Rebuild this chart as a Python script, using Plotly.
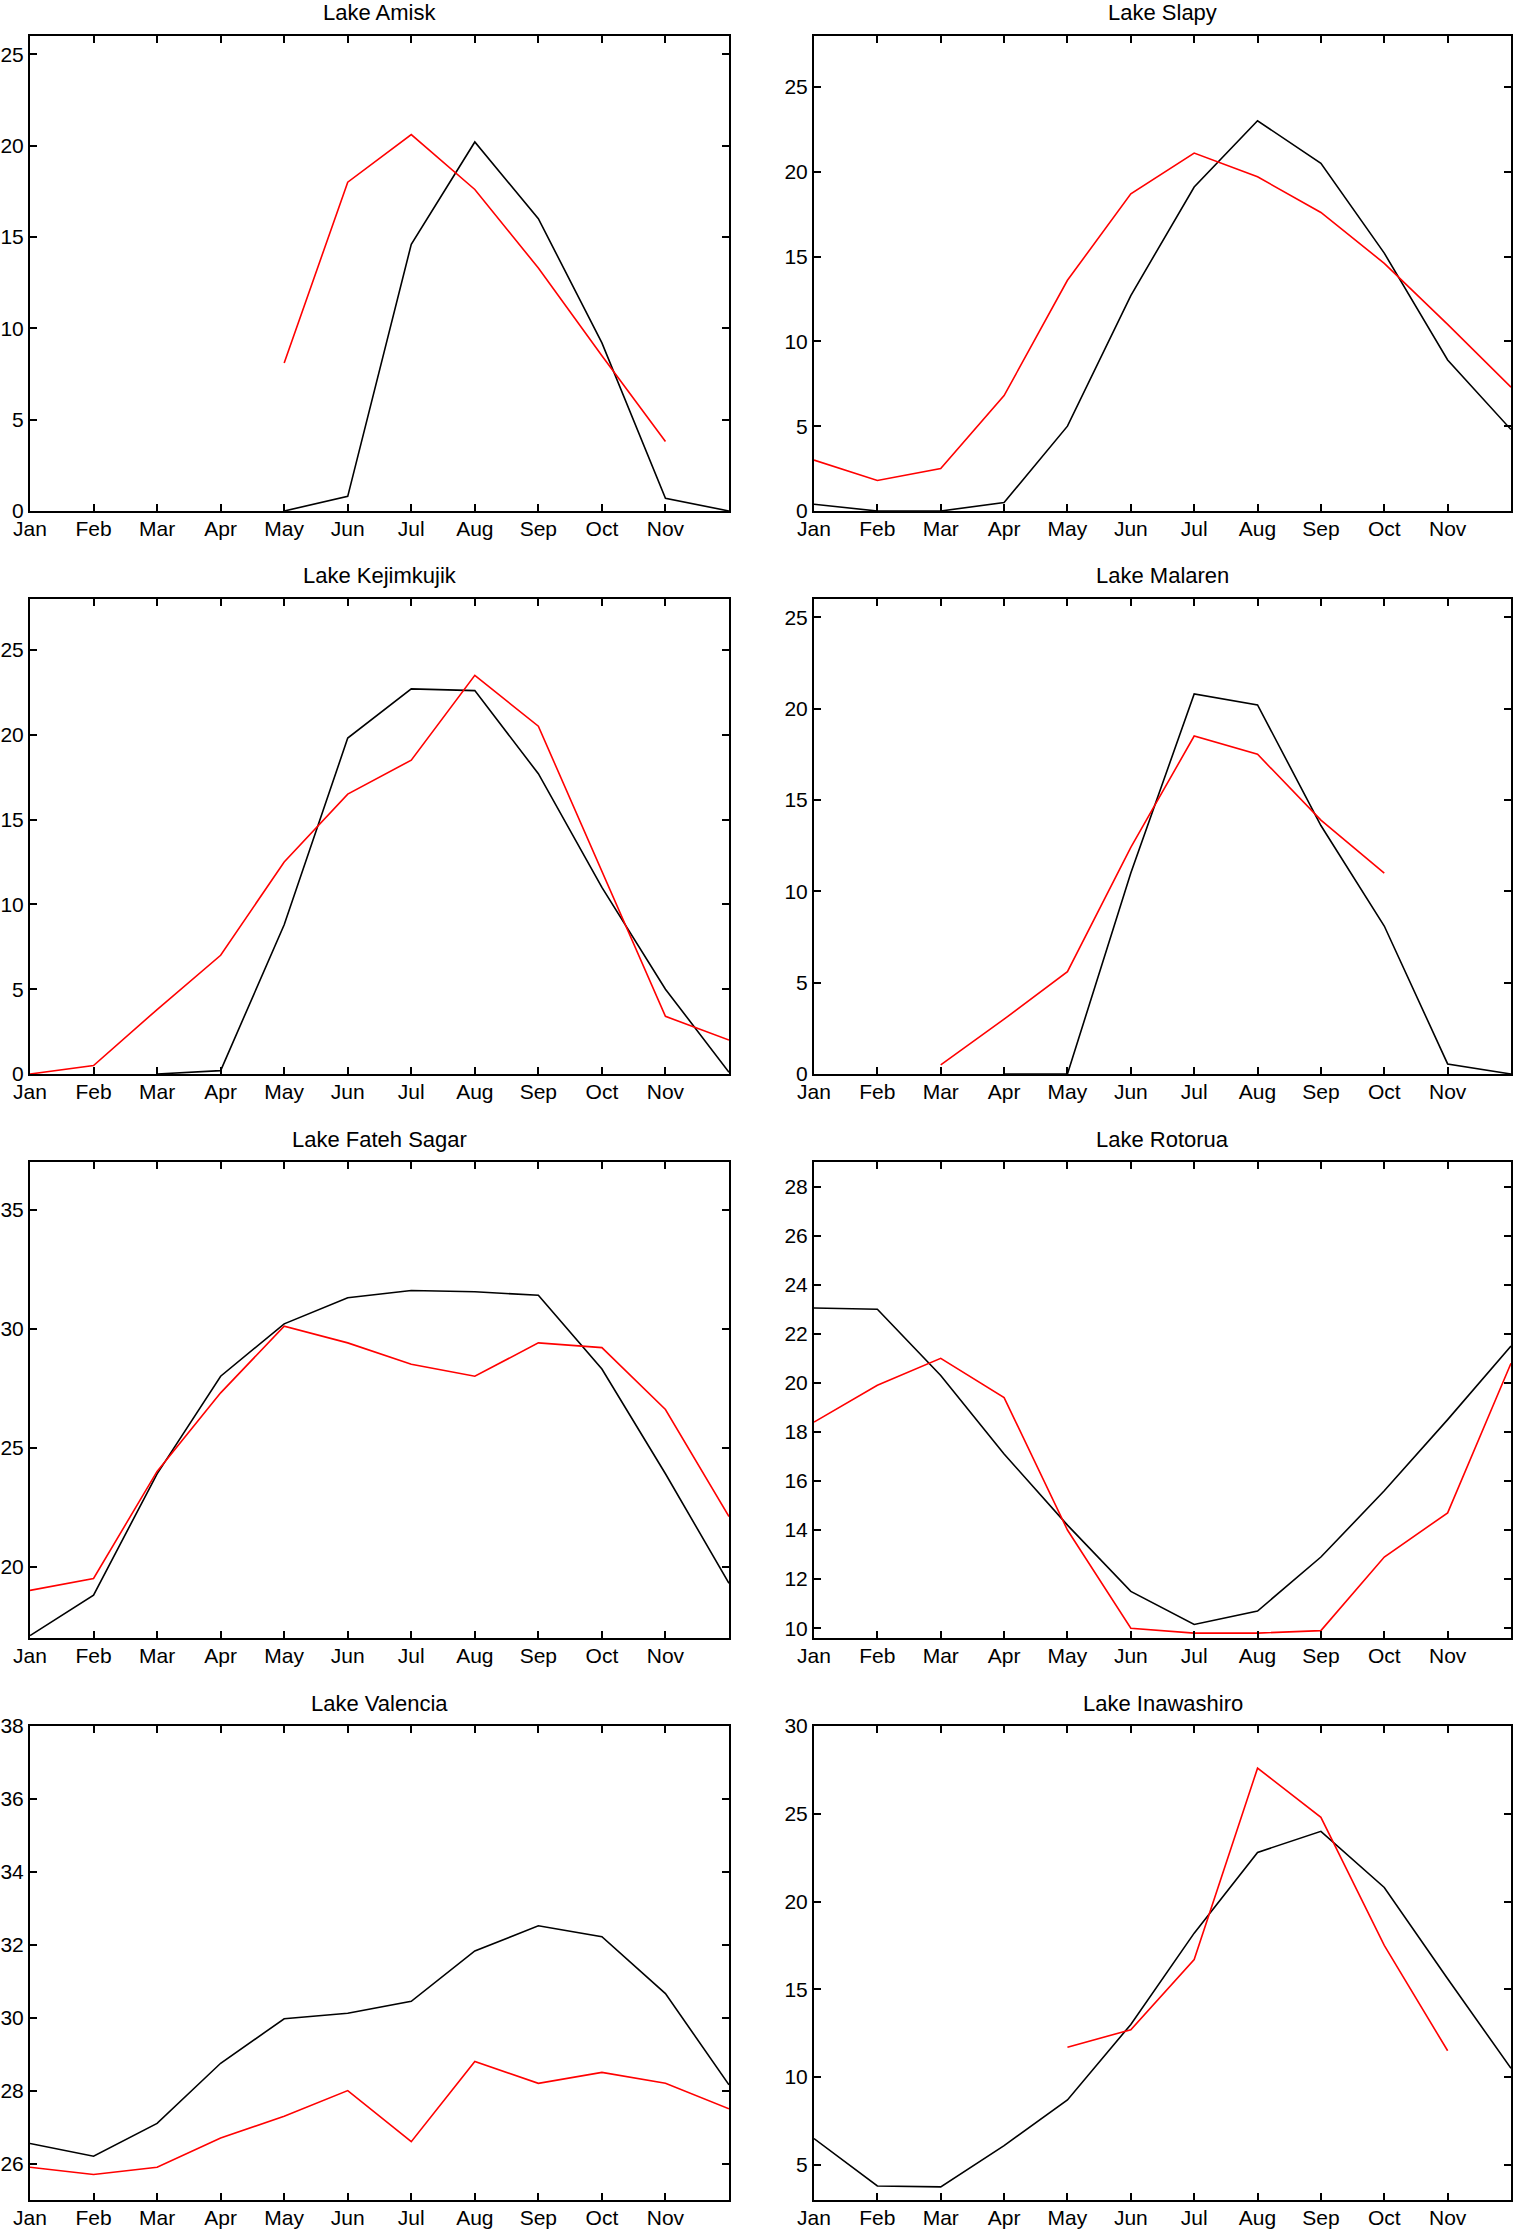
import plotly.graph_objects as go

W, H = 1514, 2231

months = ["Jan", "Feb", "Mar", "Apr", "May", "Jun", "Jul", "Aug", "Sep", "Oct", "Nov", "Dec"]
month_num = list(range(1, 13))

titles = ["Lake Amisk", "Lake Slapy", "Lake Kejimkujik", "Lake Malaren",
          "Lake Fateh Sagar", "Lake Rotorua", "Lake Valencia", "Lake Inawashiro"]

amisk_black = [None, None, None, None, 0.0, 0.8, 14.6, 20.2, 16.0, 9.2, 0.7, 0.0]
amisk_red = [None, None, None, None, 8.1, 18.0, 20.6, 17.6, 13.3, 8.5, 3.8, None]

slapy_black = [0.4, 0.0, 0.0, 0.5, 5.0, 12.7, 19.1, 23.0, 20.5, 15.2, 8.9, 4.8]
slapy_red = [3.0, 1.8, 2.5, 6.8, 13.6, 18.7, 21.1, 19.7, 17.6, 14.6, 11.0, 7.3]

kejim_black = [None, None, 0.0, 0.2, 8.8, 19.8, 22.7, 22.6, 17.7, 11.0, 5.0, 0.1]
kejim_red = [0.0, 0.5, 3.8, 7.0, 12.5, 16.5, 18.5, 23.5, 20.5, 11.9, 3.4, 2.0]

malaren_black = [None, None, None, 0.0, 0.0, 11.0, 20.8, 20.2, 13.6, 8.1, 0.55, 0.0]
malaren_red = [None, None, 0.5, 3.0, 5.6, 12.4, 18.5, 17.5, 13.9, 11.0, None, None]

fateh_black = [17.1, 18.8, 23.9, 28.0, 30.2, 31.3, 31.6, 31.55, 31.4, 28.3, 23.9, 19.3]
fateh_red = [19.0, 19.5, 24.0, 27.3, 30.1, 29.4, 28.5, 28.0, 29.4, 29.2, 26.6, 22.1]

rotorua_black = [23.05, 23.0, 20.3, 17.1, 14.2, 11.5, 10.15, 10.7, 12.9, 15.6, 18.5, 21.5]
rotorua_red = [18.4, 19.9, 21.0, 19.4, 14.0, 10.0, 9.8, 9.8, 9.9, 12.9, 14.7, 20.8]

valencia_black = [26.55, 26.2, 27.1, 28.75, 29.97, 30.12, 30.45, 31.83, 32.52, 32.22, 30.66, 28.16]
valencia_red = [25.9, 25.7, 25.9, 26.7, 27.3, 28.0, 26.6, 28.8, 28.2, 28.5, 28.2, 27.5]

inawa_black = [6.5, 3.8, 3.75, 6.1, 8.7, 13.0, 18.2, 22.8, 24.0, 20.8, 15.6, 10.5]
inawa_red = [None, None, None, None, 11.7, 12.7, 16.7, 27.6, 24.8, 17.5, 11.5, None]

black_series = [amisk_black, slapy_black, kejim_black, malaren_black,
                fateh_black, rotorua_black, valencia_black, inawa_black]
red_series = [amisk_red, slapy_red, kejim_red, malaren_red,
              fateh_red, rotorua_red, valencia_red, inawa_red]

y_ranges = [[0, 26], [0, 28], [0, 28], [0, 26], [17, 37], [9.6, 29], [25, 38], [3, 30]]
y_ticks = [
    [0, 5, 10, 15, 20, 25],
    [0, 5, 10, 15, 20, 25],
    [0, 5, 10, 15, 20, 25],
    [0, 5, 10, 15, 20, 25],
    [20, 25, 30, 35],
    [10, 12, 14, 16, 18, 20, 22, 24, 26, 28],
    [26, 28, 30, 32, 34, 36, 38],
    [5, 10, 15, 20, 25, 30],
]

# layout in pixels
col_px = [(30, 729), (814, 1511)]
row_px = [(36, 511), (599, 1074), (1162, 1638), (1726, 2200)]

FONT = "Liberation Sans, Arial, Helvetica, sans-serif"

fig = go.Figure()
annotations = []
for i in range(8):
    r, c = divmod(i, 2)
    ax = "" if i == 0 else str(i + 1)
    xa, ya = "x" + ax, "y" + ax
    x0, x1 = col_px[c]
    t0, t1 = row_px[r]
    xdom = [x0 / W, x1 / W]
    ydom = [1 - t1 / H, 1 - t0 / H]
    fig.add_trace(go.Scatter(x=month_num, y=black_series[i], mode="lines",
                             line=dict(color="black", width=1.6),
                             xaxis=xa, yaxis=ya, showlegend=False))
    fig.add_trace(go.Scatter(x=month_num, y=red_series[i], mode="lines",
                             line=dict(color="#ff0000", width=1.6),
                             xaxis=xa, yaxis=ya, showlegend=False))
    axis_common = dict(showline=True, linecolor="black", linewidth=2, mirror="ticks",
                       ticks="inside", ticklen=7, tickwidth=2, tickcolor="black",
                       showgrid=False, zeroline=False, automargin=False,
                       tickfont=dict(family=FONT, size=21, color="black"))
    fig.layout["xaxis" + ax] = dict(domain=xdom, anchor=ya, range=[1, 12],
                                    tickmode="array", tickvals=month_num[:11],
                                    ticktext=months[:11], ticklabelstandoff=-2,
                                    **axis_common)
    fig.layout["yaxis" + ax] = dict(domain=ydom, anchor=xa, range=y_ranges[i],
                                    tickmode="array", tickvals=y_ticks[i], **axis_common)
    annotations.append(dict(text=titles[i], x=(xdom[0] + xdom[1]) / 2,
                            y=1 - (t0 - 23) / H, xref="paper", yref="paper",
                            xanchor="center", yanchor="middle", showarrow=False,
                            font=dict(family=FONT, size=22, color="black")))

fig.update_layout(template="none", width=W, height=H,
                  margin=dict(l=0, r=0, t=0, b=0, pad=0),
                  paper_bgcolor="white", plot_bgcolor="white",
                  font=dict(family=FONT, size=21, color="black"),
                  annotations=annotations, showlegend=False)

fig.write_html("out.html", config={"displayModeBar": False},
               post_script="document.body.style.margin='0px';document.body.style.padding='0px';")
